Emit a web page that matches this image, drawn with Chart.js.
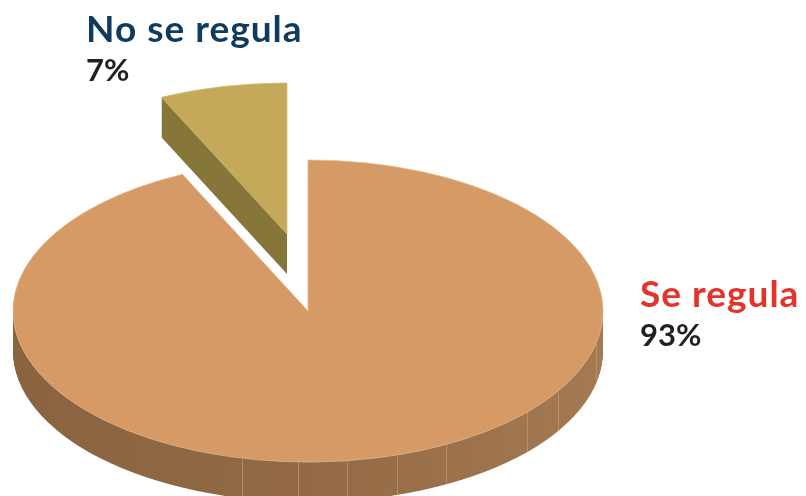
<!DOCTYPE html>
<html>
<head>
<meta charset="utf-8">
<script src="https://cdn.jsdelivr.net/npm/chart.js@4.4.1/dist/chart.umd.min.js"></script>
<style>
  html, body { margin: 0; padding: 0; background: #ffffff; }
  #wrap { width: 806px; height: 496px; }
</style>
</head>
<body>
<div id="wrap"><canvas id="chart" width="806" height="496"></canvas></div>
<script>
// Survey answer categories and their shares (%)
const categories = ['Se regula', 'No se regula'];
const shares = [93, 7];

// Colours per slice: top face, side wall, label name
const faceColors = ['#d59a66', '#c4a95b'];
const edgeColors = ['#e3b98e', '#d3bb72'];
const sideColors = [['#8a6340', '#936a45', '#a47a53'], '#877639'];
const nameColors = ['#e5332a', '#0e3b5e'];

// Tilted pie with an extruded side wall and a pulled-out slice
const pie3d = {
  id: 'pie3d',
  beforeDatasetsDraw(chart, args, opts) {
    const ctx = chart.ctx;
    const arcs = chart.getDatasetMeta(0).data;
    const k = opts.tilt;
    const depth = opts.depth;

    opts.drawOrder.forEach(i => {
      const arc = arcs[i];
      const off = opts.explode[i];
      const p = arc.getProps(['x', 'y', 'startAngle', 'endAngle', 'outerRadius']);
      const toScreen = () => {
        ctx.translate(p.x + off.x, p.y + off.y);
        ctx.scale(1, k);
        ctx.translate(-p.x, -p.y);
      };
      const slicePath = (dy) => {
        ctx.save();
        ctx.translate(0, dy);
        toScreen();
        ctx.beginPath();
        ctx.moveTo(p.x, p.y);
        ctx.arc(p.x, p.y, p.outerRadius, p.startAngle, p.endAngle);
        ctx.closePath();
        ctx.restore();
      };

      // side wall: stacked copies of the slice shape below the top face
      let fill = sideColors[i];
      if (Array.isArray(fill)) {
        const g = ctx.createLinearGradient(p.x + off.x - p.outerRadius, 0, p.x + off.x + p.outerRadius, 0);
        fill.forEach((c, j) => g.addColorStop(j / (fill.length - 1), c));
        fill = g;
      }
      ctx.fillStyle = fill;
      for (let d = depth; d >= 1; d--) {
        slicePath(d);
        ctx.fill();
      }

      // facet seams on the front of the wall
      const TAU = Math.PI * 2;
      ctx.save();
      ctx.strokeStyle = opts.seamColor;
      ctx.lineWidth = 1;
      opts.seams.forEach(deg => {
        const a = deg * Math.PI / 180;
        let aa = a;
        while (aa < p.startAngle) aa += TAU;
        if (aa > p.endAngle) return;
        const sx = Math.round(p.x + off.x + p.outerRadius * Math.cos(a)) + 0.5;
        const sy = p.y + off.y + p.outerRadius * Math.sin(a) * k;
        ctx.beginPath();
        ctx.moveTo(sx, sy);
        ctx.lineTo(sx, sy + depth);
        ctx.stroke();
      });
      ctx.restore();

      // top face, drawn by the arc element itself
      ctx.save();
      toScreen();
      arc.draw(ctx);
      ctx.restore();
    });
    return false;
  },
  afterDraw(chart, args, opts) {
    const ctx = chart.ctx;
    const labels = chart.data.labels;
    const values = chart.data.datasets[0].data;
    ctx.save();
    ctx.textAlign = 'left';
    ctx.textBaseline = 'alphabetic';
    labels.forEach((name, i) => {
      const a = opts.labelAnchors[i];
      ctx.font = opts.nameFont;
      ctx.letterSpacing = opts.nameSpacing;
      ctx.fillStyle = nameColors[i];
      ctx.fillText(name, a.x, a.y);
      ctx.font = opts.valueFont;
      ctx.letterSpacing = '0px';
      ctx.fillStyle = opts.valueColor;
      ctx.fillText(values[i] + '%', a.x, a.y + opts.valueGap);
    });
    ctx.restore();
  }
};

new Chart(document.getElementById('chart'), {
  type: 'pie',
  data: {
    labels: categories,
    datasets: [{
      data: shares,
      backgroundColor: faceColors,
      borderColor: edgeColors,
      borderWidth: 1,
      radius: 295,
      clip: false
    }]
  },
  options: {
    responsive: false,
    devicePixelRatio: 1,
    animation: false,
    layout: { padding: { left: 0, right: 190, top: 126, bottom: 0 } },
    plugins: {
      legend: { display: false },
      tooltip: { enabled: false },
      pie3d: {
        tilt: 0.512,
        depth: 40,
        drawOrder: [1, 0],
        explode: [{ x: 0, y: 0 }, { x: -21, y: -77 }],
        seams: [12.5, 32, 42, 62, 72.5, 82.5, 92, 103],
        seamColor: 'rgba(205,160,118,0.6)',
        labelAnchors: [{ x: 640, y: 307 }, { x: 86, y: 42 }],
        nameFont: 'bold 37px Lato',
        nameSpacing: '1px',
        valueFont: 'bold 31px Lato',
        valueColor: '#231f20',
        valueGap: 39
      }
    }
  },
  plugins: [pie3d]
});
</script>
</body>
</html>
